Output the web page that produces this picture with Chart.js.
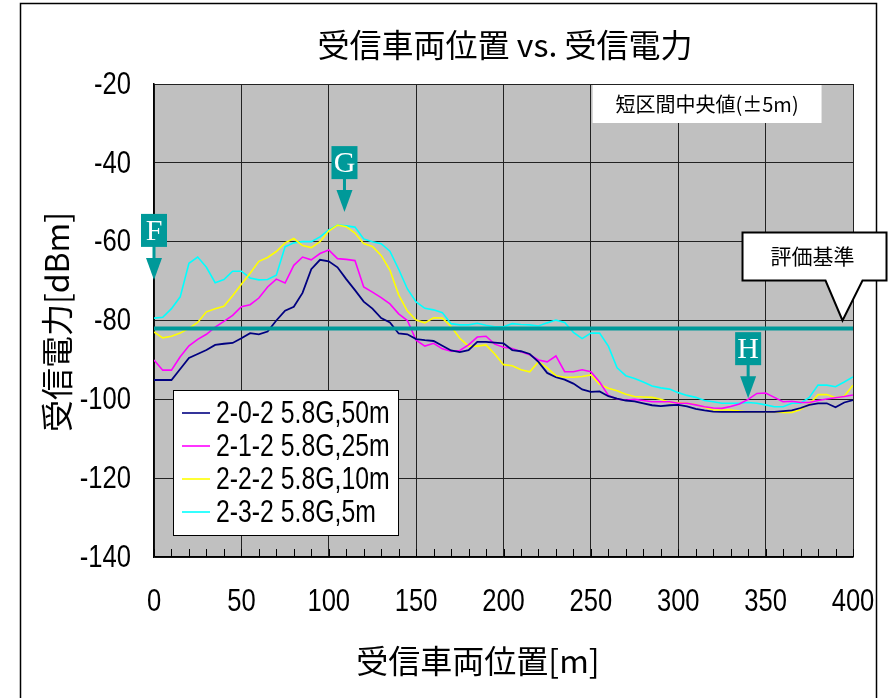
<!DOCTYPE html>
<html>
<head>
<meta charset="utf-8">
<script src="https://cdn.jsdelivr.net/npm/chart.js@4.4.0/dist/chart.umd.min.js"></script>
<style>body{margin:0;background:#fff}</style>
</head>
<body>
<canvas id="chart" width="890" height="698"></canvas>
<script>
// 受信車両位置 [m]
const positions = [0,5,10,15,20,25,30,35,40,45,50,55,60,65,70,75,80,85,90,95,
  100,105,110,115,120,125,130,135,140,145,150,155,160,165,170,175,180,185,190,195,
  200,205,210,215,220,225,230,235,240,245,250,255,260,265,270,275,280,285,290,295,
  300,305,310,315,320,325,330,335,340,345,350,355,360,365,370,375,380,385,390,395,400];

// 受信電力 [dBm]
const s202 = [-95.1,-95.1,-95.1,-92.3,-89.5,-88.5,-87.5,-86.2,-85.9,-85.7,
  -84.5,-83.2,-83.5,-82.8,-80,-77.5,-76.5,-73,-67,-64.6,
  -65,-66.5,-69.5,-72.3,-75.2,-77,-79.4,-80.5,-83.3,-83.5,
  -84.7,-85,-85.2,-86.4,-87.6,-88,-87.5,-85.4,-85.4,-85.6,
  -85.8,-87.5,-87.8,-88.5,-90.5,-93.3,-94.4,-95,-96,-97.5,
  -98.1,-98,-99.2,-99.8,-100.3,-100.5,-101,-101.5,-101.7,-101.5,
  -101.4,-101.8,-102.4,-102.8,-103.1,-103.2,-103.2,-103.2,-103.2,-103.2,
  -103.2,-103.2,-103,-102.8,-102.2,-101.4,-101,-101,-102,-100.8,-100.2];
const s212 = [-90,-92.6,-92.6,-89.2,-86.4,-84.8,-83.5,-81.7,-80.2,-78.7,
  -76.5,-76,-74.3,-71.5,-69.5,-70.5,-66,-63.9,-64.6,-63,
  -62.1,-64.3,-64.5,-64.8,-71.5,-72.8,-74.2,-75.8,-78.3,-80,
  -85,-86.5,-85.8,-87.2,-87.8,-87.6,-86.2,-84.2,-84,-86,
  -86.8,-87.1,-87.9,-88.7,-90,-90.5,-89,-93,-93,-92.5,
  -93,-95.6,-99,-99.9,-100.2,-100,-100.3,-100.6,-100.6,-100.6,
  -101,-101,-101.4,-101.9,-102.2,-102.3,-101.8,-101.2,-100,-98.5,
  -98.4,-99.5,-100.6,-100.5,-100.8,-100.8,-100.3,-99.9,-99.6,-99.3,-98.9];
const s222 = [-82.9,-84.4,-84,-83.2,-82,-80.5,-77.8,-77,-76.4,-73.7,
  -70.8,-68,-65,-64,-62.5,-60.3,-59.2,-61,-61.5,-60,
  -57.3,-55.8,-56.2,-57.8,-60.5,-61.2,-63.5,-67.2,-73.5,-77.6,
  -79.9,-80.6,-79.3,-79.4,-81.5,-84.5,-86.5,-86.5,-86.2,-88.5,
  -91.2,-91.5,-92.5,-93,-90.5,-92,-94,-94.4,-94.4,-94.2,
  -93.8,-96.2,-97.2,-97.8,-98.7,-99.3,-99.4,-99.5,-100,-100.8,
  -100.8,-101,-101.3,-102,-102.7,-102.7,-102.7,-103,-103.2,-103.2,
  -103.2,-103.2,-103.3,-103.3,-102.6,-101.2,-98.8,-98.8,-99.6,-99.2,-96.4];
const s232 = [-79.4,-79.2,-77,-74,-65.5,-63.9,-66.5,-70.4,-69.6,-67.5,
  -67.5,-69.2,-69.7,-69.6,-68.5,-61.3,-60.3,-60,-60,-58.8,
  -57,-55.8,-56,-56.3,-59.3,-60,-60.5,-62.4,-67,-72,
  -75.3,-76.9,-77.3,-78,-80.8,-81.1,-81.1,-80.7,-81.2,-81.6,
  -81.6,-80.8,-81,-81.1,-81.4,-80.6,-79.9,-80.5,-83,-84.6,
  -83.2,-83.2,-86.5,-92,-94,-94.7,-95.6,-96.6,-97.1,-97.4,
  -98.3,-99,-99.5,-100.3,-100.6,-101,-101,-101,-100.8,-101,
  -101.4,-101.9,-101.9,-101,-101,-99.5,-96.4,-96.4,-96.8,-95.6,-94.3];

const seriesNames = ['2-0-2 5.8G,50m', '2-1-2 5.8G,25m', '2-2-2 5.8G,10m', '2-3-2 5.8G,5m'];
const seriesColors = ['#000080', '#ff00ff', '#ffff00', '#00ffff'];
const seriesValues = [s202, s212, s222, s232];

// 評価基準
const thresholdX = [0, 400];
const thresholdY = [-82, -82];

// markers: label, x [m], tip y [dBm]
const markerLabels = ['F', 'G', 'H'];
const markerX = [0, 109, 340];
const markerTipY = [-69.7, -52.5, -99.7];

const numFont = "'Liberation Sans', Arial, sans-serif";
const jpFont = "'Noto Sans CJK JP', sans-serif";
const teal = '#009999';

// narrow text (like Arial Narrow)
function narrowText(ctx, text, x, y, align, size) {
  ctx.save();
  ctx.font = size + 'px ' + numFont;
  ctx.textAlign = align;
  ctx.textBaseline = 'middle';
  ctx.translate(x, y);
  ctx.scale(0.8, 1);
  ctx.fillText(text, 0, 0);
  ctx.restore();
}

const datasets = seriesValues.map((vals, i) => ({
  label: seriesNames[i],
  data: positions.map((p, j) => ({x: p, y: vals[j]})),
  borderColor: seriesColors[i],
  borderWidth: i == 0 ? 1.8 : 1.6,
  pointRadius: 0,
  fill: false
}));
datasets.push({
  label: '評価基準',
  data: thresholdX.map((p, j) => ({x: p, y: thresholdY[j]})),
  borderColor: teal,
  borderWidth: 4,
  pointRadius: 0,
  order: -1
});

const decorations = {
  id: 'decorations',
  beforeDraw(chart) {
    const {ctx, chartArea: a} = chart;
    ctx.save();
    ctx.fillStyle = '#c0c0c0';
    ctx.fillRect(a.left, a.top, a.right - a.left, a.bottom - a.top);
    ctx.restore();
  },
  afterDatasetsDraw(chart) {
    const {ctx, chartArea: a} = chart;
    const xs = chart.scales.x, ys = chart.scales.y;
    ctx.save();

    // minor ticks every 10 m
    ctx.strokeStyle = '#000';
    ctx.lineWidth = 1;
    for (let v = 0; v <= 400; v += 10) {
      const px = Math.round(xs.getPixelForValue(v)) + 0.5;
      ctx.beginPath();
      ctx.moveTo(px, a.bottom);
      ctx.lineTo(px, a.bottom - 8);
      ctx.stroke();
    }

    // 短区間中央値 box
    const bx1 = xs.getPixelForValue(251), bx2 = xs.getPixelForValue(382);
    ctx.fillStyle = '#fff';
    ctx.fillRect(bx1, a.top + 1, bx2 - bx1, 38);
    ctx.fillStyle = '#000';
    ctx.font = '20px ' + jpFont;
    ctx.textAlign = 'center';
    ctx.textBaseline = 'middle';
    ctx.fillText('短区間中央値(±5m)', (bx1 + bx2) / 2, a.top + 20);

    // markers F G H
    markerLabels.forEach((m, i) => {
      const px = xs.getPixelForValue(markerX[i]);
      const tip = ys.getPixelForValue(markerTipY[i]);
      ctx.fillStyle = teal;
      ctx.fillRect(px - 13, tip - 66, 26, 33);
      ctx.fillRect(px - 1.5, tip - 34, 3, 13);
      ctx.beginPath();
      ctx.moveTo(px - 8, tip - 22);
      ctx.lineTo(px + 8, tip - 22);
      ctx.lineTo(px, tip);
      ctx.closePath();
      ctx.fill();
      ctx.fillStyle = '#fff';
      ctx.font = '30px "Liberation Serif", serif';
      ctx.textAlign = 'center';
      ctx.textBaseline = 'middle';
      ctx.fillText(m, px, tip - 48);
    });

    // legend
    const lx = a.left + 19, ly = a.top + 306;
    ctx.fillStyle = '#fff';
    ctx.fillRect(lx, ly, 225, 145);
    ctx.strokeStyle = '#000';
    ctx.lineWidth = 1;
    ctx.strokeRect(lx + 0.5, ly + 0.5, 225, 145);
    seriesNames.forEach((n, i) => {
      const ry = ly + 23 + i * 33;
      ctx.strokeStyle = seriesColors[i];
      ctx.lineWidth = 1.6;
      ctx.beginPath();
      ctx.moveTo(lx + 9, ry);
      ctx.lineTo(lx + 37, ry);
      ctx.stroke();
      ctx.fillStyle = '#000';
      narrowText(ctx, n, lx + 43, ry + 1, 'left', 31);
    });

    ctx.restore();
  },
  afterDraw(chart) {
    const {ctx} = chart;
    const xs = chart.scales.x, ys = chart.scales.y;
    ctx.save();

    // tick labels from the scales
    ctx.fillStyle = '#000';
    xs.ticks.forEach((t, i) => narrowText(ctx, String(t.value), xs.getPixelForTick(i), 602, 'center', 32));
    ys.ticks.forEach((t, i) => narrowText(ctx, String(t.value), 131, ys.getPixelForTick(i) + 1, 'right', 32));

    // frame
    ctx.strokeStyle = '#000';
    ctx.lineWidth = 1.5;
    ctx.strokeRect(20.5, 3.5, 856, 720);

    // 評価基準 callout
    const tx = xs.getPixelForValue(394), ty = ys.getPixelForValue(-80);
    ctx.fillStyle = '#fff';
    ctx.strokeStyle = '#000';
    ctx.lineWidth = 2;
    ctx.beginPath();
    ctx.moveTo(tx - 100, ty - 88);
    ctx.lineTo(tx + 44, ty - 88);
    ctx.lineTo(tx + 44, ty - 40);
    ctx.lineTo(tx + 20, ty - 40);
    ctx.lineTo(tx, ty);
    ctx.lineTo(tx - 17, ty - 40);
    ctx.lineTo(tx - 100, ty - 40);
    ctx.closePath();
    ctx.fill();
    ctx.stroke();
    ctx.fillStyle = '#000';
    ctx.font = '21px ' + jpFont;
    ctx.textAlign = 'center';
    ctx.textBaseline = 'middle';
    ctx.fillText('評価基準', tx - 30, ty - 64);

    // titles
    ctx.font = '32px ' + jpFont;
    ctx.fillText('受信車両位置 vs. 受信電力', 505, 45);
    ctx.fillText('受信車両位置[m]', 478, 661);
    ctx.translate(57, 322);
    ctx.rotate(-Math.PI / 2);
    ctx.fillText('受信電力[dBm]', 0, 0);
    ctx.restore();
  }
};

new Chart(document.getElementById('chart'), {
  type: 'line',
  data: {datasets: datasets},
  options: {
    responsive: false,
    animation: false,
    layout: {padding: {left: 0, top: 84, right: 37, bottom: 0}},
    plugins: {legend: {display: false}, tooltip: {enabled: false}},
    elements: {line: {tension: 0}},
    scales: {
      x: {
        type: 'linear', min: 0, max: 400,
        afterFit(s) { s.height = 141; },
        ticks: {stepSize: 50, display: false},
        grid: {color: '#222', lineWidth: 1, drawTicks: false},
        border: {color: '#000', width: 1.5}
      },
      y: {
        min: -140, max: -20,
        afterFit(s) { s.width = 154; },
        ticks: {stepSize: 20, display: false},
        grid: {color: '#222', lineWidth: 1, drawTicks: false},
        border: {color: '#000', width: 1.5}
      }
    }
  },
  plugins: [decorations]
});
</script>
</body>
</html>
